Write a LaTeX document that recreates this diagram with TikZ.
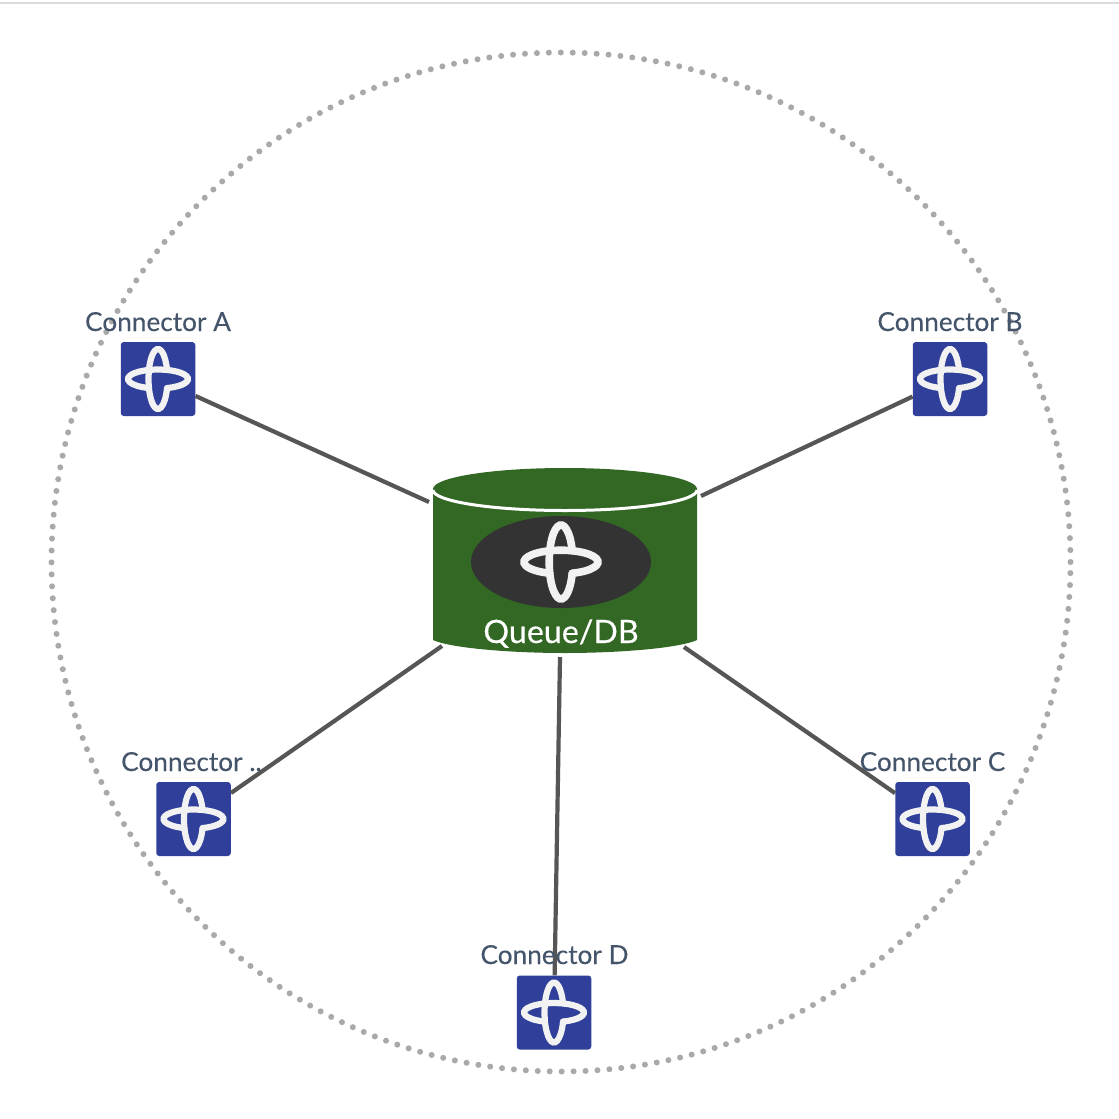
\documentclass[tikz,border=0pt]{standalone}
\usepackage{fontspec}
\usetikzlibrary{shapes.geometric}
\setmainfont{Lato}
\newfontfamily\capfont[FakeBold=0.12]{Lato}
\newfontfamily\qfont[FakeBold=0.3]{Lato}
\definecolor{slabel}{HTML}{44546A}
\definecolor{boxblue}{HTML}{2F3F9A}
\definecolor{cylgreen}{HTML}{326824}
\definecolor{darkoval}{HTML}{333333}
\definecolor{iconwhite}{HTML}{F2F2F2}
\definecolor{linkgray}{HTML}{565656}
\definecolor{ringgray}{HTML}{A9A9A9}
\tikzset{
  x=1pt,y=1pt,
  iconbox/.style={rectangle,fill=boxblue,rounded corners=3pt,inner sep=0pt,minimum width=74.5pt,minimum height=74pt},
  link/.style={draw=linkgray,line width=4.2pt},
  caption/.style={text=slabel,font=\capfont\fontsize{26.2}{30}\selectfont,anchor=base,inner sep=0pt},
  ring/.style={draw=ringgray,line width=6pt,line cap=round,dash pattern=on 0pt off 11.95pt},
  cross/.pic={
    \draw[iconwhite,line width=6.2pt,line cap=round]
      ({9.5*cos(17.7)},{30*sin(17.7)}) arc[start angle=17.7,end angle=342.3,x radius=9.5,y radius=30];
    \draw[iconwhite,line width=6.2pt,line cap=round]
      ({30*cos(-72.3)},{9.5*sin(-72.3)}) arc[start angle=-72.3,end angle=252.3,x radius=30,y radius=9.5];
  },
  bigcross/.pic={
    \draw[iconwhite,line width=7.6pt,line cap=round]
      ({11.8*cos(17.7)},{37*sin(17.7)}) arc[start angle=17.7,end angle=342.3,x radius=11.8,y radius=37];
    \draw[iconwhite,line width=7.6pt,line cap=round]
      ({37*cos(-72.3)},{11.8*sin(-72.3)}) arc[start angle=-72.3,end angle=252.3,x radius=37,y radius=11.8];
  }
}
\begin{document}
\begin{tikzpicture}
\useasboundingbox (0,0) rectangle (1119,-1119);
\fill[white] (0,0) rectangle (1119,-1119);
\fill[black!14] (0,-2) rectangle (1119,-3.8);
\draw[ring] (561,-562) circle[radius=509.5];

% cylinder
\fill[cylgreen] (433,-489) -- (433,-640) .. controls (450,-648) and (510,-653) .. (565,-653)
  .. controls (620,-653) and (680,-648) .. (697,-640) -- (697,-489) -- cycle;
\fill[cylgreen] (565,-489) ellipse[x radius=132,y radius=21];
\draw[white,line width=3pt] (433,-490) arc[start angle=180,end angle=360,x radius=132,y radius=20.5];
\node[ellipse,fill=darkoval,minimum width=180pt,minimum height=92pt,inner sep=0pt] (oval) at (561,-562) {};
\pic at (561,-562) {bigcross};
\node[text=white,font=\qfont\fontsize{32.2}{36}\selectfont,anchor=base,inner sep=0pt] (qlabel) at (561,-643) {Queue/DB};

% icon boxes
\node[iconbox] (a) at (158,-379) {};
\node[iconbox] (b) at (950,-379) {};
\node[iconbox] (c) at (932.5,-819) {};
\node[iconbox] (d) at (554,-1012.5) {};
\node[iconbox] (e) at (193.5,-819) {};
\pic at (158,-379) {cross};
\pic at (950,-379) {cross};
\pic at (932.5,-819) {cross};
\pic at (554,-1012.5) {cross};
\pic at (193.5,-819) {cross};

% connector free ends at the cylinder
\coordinate (qa) at (429,-502);
\coordinate (qb) at (701,-496);
\coordinate (qc) at (684,-647);
\coordinate (qd) at (560,-657);
\coordinate (qe) at (442,-646);
\draw[link] (a) -- (qa);
\draw[link] (b) -- (qb);
\draw[link] (c) -- (qc);
\draw[link] (d) -- (qd);
\draw[link] (e) -- (qe);

% captions
\node[caption] (la) at (158,-331) {Connector A};
\node[caption] (lb) at (950,-331) {Connector B};
\node[caption] (lc) at (932.5,-771) {Connector C};
\node[caption] (ld) at (554.5,-964) {Connector D};
\node[caption,anchor=base west] (le) at (121,-771) {Connector ..};
\end{tikzpicture}
\end{document}
